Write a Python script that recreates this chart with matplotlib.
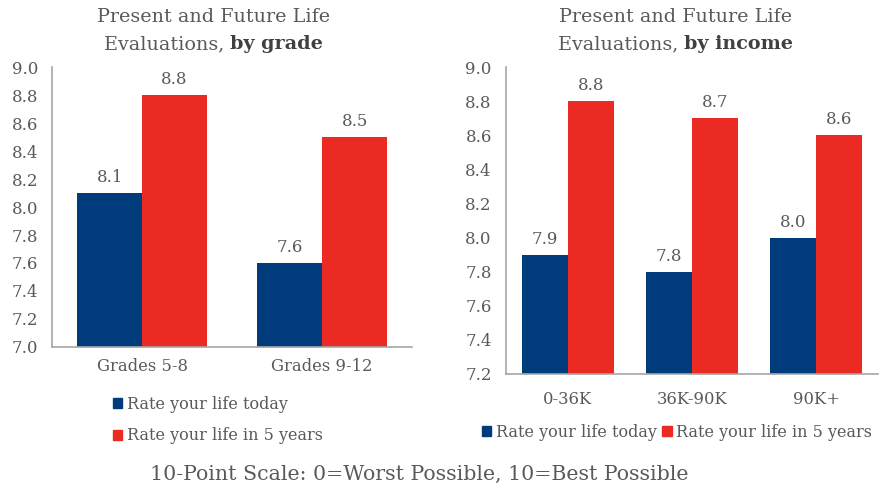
import matplotlib
matplotlib.use("Agg")
import matplotlib.pyplot as plt
from matplotlib.patches import Patch

SERIES = ["Rate your life today", "Rate your life in 5 years"]
GRADE_CATS = ["Grades 5-8", "Grades 9-12"]
GRADE_TODAY = [8.1, 7.6]
GRADE_FUTURE = [8.8, 8.5]
INCOME_CATS = ["0-36K", "36K-90K", "90K+"]
INCOME_TODAY = [7.9, 7.8, 8.0]
INCOME_FUTURE = [8.8, 8.7, 8.6]

BLUE = "#003b7b"
RED = "#ec2a24"
GREY = "#595959"
AXIS_GREY = "#a6a6a6"

plt.rcParams["font.family"] = ["DejaVu Serif"]
plt.rcParams["font.size"] = 11.5
plt.rcParams["text.color"] = GREY


def draw_panel(ax, cats, today, future, ymin, width):
    x = list(range(len(cats)))
    b1 = ax.bar([i - width / 2 for i in x], [v - ymin for v in today], width, bottom=ymin, color=BLUE)
    b2 = ax.bar([i + width / 2 for i in x], [v - ymin for v in future], width, bottom=ymin, color=RED)
    for bars, vals in ((b1, today), (b2, future)):
        for bar, v in zip(bars, vals):
            ax.annotate(f"{v:.1f}", (bar.get_x() + bar.get_width() / 2, v),
                        xytext=(0, 5), textcoords="offset points",
                        ha="center", va="bottom", color=GREY, fontsize=12)
    ax.set_xlim(-0.5, len(cats) - 0.5)
    ax.set_ylim(ymin, 9.0)
    ax.set_yticks([round(ymin + 0.2 * k, 1) for k in range(int(round((9.0 - ymin) / 0.2)) + 1)])
    ax.set_yticklabels([f"{t:.1f}" for t in ax.get_yticks()])
    ax.set_xticks(x)
    ax.set_xticklabels(cats)
    for s in ("top", "right"):
        ax.spines[s].set_visible(False)
    for s in ("left", "bottom"):
        ax.spines[s].set_color(AXIS_GREY)
        ax.spines[s].set_linewidth(1.2)
    ax.tick_params(axis="both", length=0, colors=GREY)
    ax.tick_params(axis="x", pad=8, labelsize=11.8)
    ax.tick_params(axis="y", pad=10, labelsize=12)


def mixed_title(fig, renderer, cx, y, normal, bold, size=13.8):
    # second title line: plain part + bold part, centred together
    t1 = fig.text(0, y, normal, fontsize=size, color=GREY, va="baseline")
    t2 = fig.text(0, y, bold, fontsize=size, color="#404040", fontweight="bold", va="baseline")
    w1 = t1.get_window_extent(renderer).width / fig.bbox.width
    w2 = t2.get_window_extent(renderer).width / fig.bbox.width
    start = cx - (w1 + w2) / 2
    t1.set_x(start)
    t2.set_x(start + w1)


fig = plt.figure(figsize=(8.81, 4.90), dpi=100)
ax1 = fig.add_axes([0.059, 0.292, 0.409, 0.571])
ax2 = fig.add_axes([0.574, 0.237, 0.423, 0.626])

draw_panel(ax1, GRADE_CATS, GRADE_TODAY, GRADE_FUTURE, 7.0, 0.36)
draw_panel(ax2, INCOME_CATS, INCOME_TODAY, INCOME_FUTURE, 7.2, 0.37)
ax2.tick_params(axis="x", pad=12)

handles = [Patch(color=BLUE), Patch(color=RED)]
leg1 = ax1.legend(handles, SERIES, loc="upper left", bbox_to_anchor=(0.128, 0.192),
                  bbox_transform=fig.transFigure, frameon=False, ncol=1,
                  handlelength=0.6, handleheight=0.6, handletextpad=0.3,
                  labelspacing=0.9, fontsize=11.5, borderaxespad=0, borderpad=0)
leg2 = ax2.legend(handles, SERIES, loc="upper left", bbox_to_anchor=(0.547, 0.135),
                  bbox_transform=fig.transFigure, frameon=False, ncol=2,
                  handlelength=0.6, handleheight=0.6, handletextpad=0.3,
                  columnspacing=0.3, fontsize=11.5, borderaxespad=0, borderpad=0)
for leg in (leg1, leg2):
    for txt in leg.get_texts():
        txt.set_color(GREY)

fig.canvas.draw()
renderer = fig.canvas.get_renderer()
fig.text(0.242, 0.955, "Present and Future Life", fontsize=13.8, color=GREY, ha="center", va="baseline")
mixed_title(fig, renderer, 0.242, 0.9, "Evaluations, ", "by grade")
fig.text(0.767, 0.955, "Present and Future Life", fontsize=13.8, color=GREY, ha="center", va="baseline")
mixed_title(fig, renderer, 0.767, 0.9, "Evaluations, ", "by income")

fig.text(0.476, 0.02, "10-Point Scale: 0=Worst Possible, 10=Best Possible",
         fontsize=14.8, color=GREY, ha="center", va="baseline")

fig.savefig("out.png", dpi=100)
